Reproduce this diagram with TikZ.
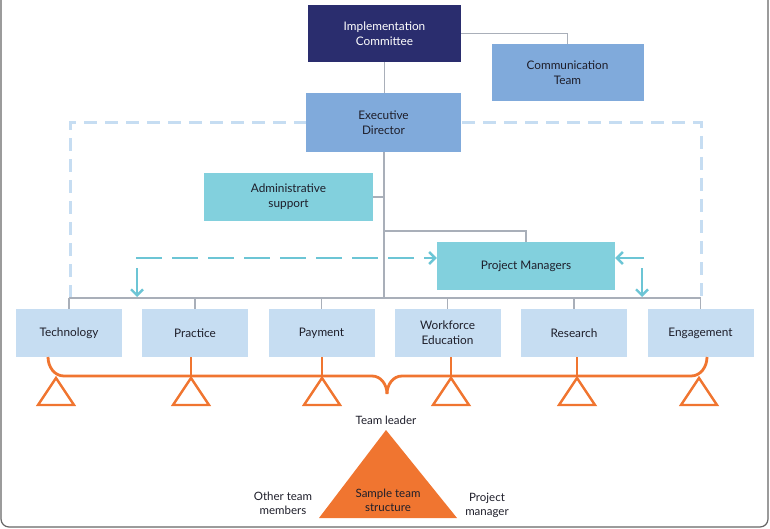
\documentclass[tikz,border=0pt]{standalone}
\usepackage{fontspec}
\setmainfont{Lato}
\usetikzlibrary{arrows.meta}
\definecolor{navy}{HTML}{2A2D6E}
\definecolor{midblue}{HTML}{80AADB}
\definecolor{teal}{HTML}{82D0DD}
\definecolor{paleblue}{HTML}{C6DDF2}
\definecolor{arrteal}{HTML}{6CC5D5}
\definecolor{conn}{HTML}{A9AFB9}
\definecolor{orng}{HTML}{F07530}
\definecolor{txt}{HTML}{1E1E2A}
\begin{document}
\begin{tikzpicture}[x=1pt,y=-1pt,
  box/.style={rectangle,inner sep=0pt,align=center,font=\fontsize{11.8}{15}\selectfont,text=txt},
  teambox/.style={box,fill=paleblue,minimum width=106pt,minimum height=48pt},
  conline/.style={draw=conn,line width=1.6pt},
  dashrect/.style={draw=paleblue,line width=3pt,dash pattern=on 13pt off 8pt},
  tarrow/.style={draw=arrteal,line width=2.7pt,-{Straight Barb[length=6pt,width=12pt,line width=2.4pt]}},
  orline/.style={draw=orng,line width=2.8pt},
  lbl/.style={align=center,font=\fontsize{11.5}{14}\selectfont,text=txt,inner sep=0pt}]
\useasboundingbox (0,0) rectangle (770,529);
% outer frame (open at top)
\draw[draw=black!60,line width=1.2pt] (1,-10) -- (1,519) arc[start angle=180,end angle=90,radius=8] -- (760,527) arc[start angle=90,end angle=0,radius=8] -- (768,-10);
% dashed rectangle (behind nodes)
\coordinate (L) at (69,298);
\coordinate (R) at (701,298);
\draw[dashrect] (70,298) -- (70,123) -- (701,123) -- (701,298);
% nodes
\node[box,fill=navy,text=white,minimum width=153pt,minimum height=57pt] (ic) at (384.5,33.5) {Implementation\\Committee};
\node[box,fill=midblue,minimum width=152pt,minimum height=57pt] (ct) at (567.5,72.5) {Communication\\Team};
\node[box,fill=midblue,minimum width=155pt,minimum height=59pt] (ed) at (383.5,122.5) {Executive\\Director};
\node[box,fill=teal,minimum width=169pt,minimum height=48pt] (as) at (288.5,197) {Administrative\\support};
\node[box,fill=teal,minimum width=178pt,minimum height=48pt] (pm) at (526,266) {Project Managers};
\node[teambox] (t1) at (69,333) {Technology};
\node[teambox] (t2) at (195,333) {Practice};
\node[teambox] (t3) at (321.5,333) {Payment};
\node[teambox] (t4) at (447.5,333) {Workforce\\Education};
\node[teambox] (t5) at (574,333) {Research};
\node[teambox] (t6) at (700.5,333) {Engagement};
% gray connectors
\coordinate (hub) at (384,298);
\coordinate (br) at (384,231);
\draw[conline] (ic.south) -- (ic.south |- ed.north);
\draw[conline] (ic.east) -| (ct.north);
\draw[conline] (ed.south -| hub) -- (hub);
\draw[conline] (as.east) -- (as.east -| hub);
\draw[conline] (br) -| (pm.north);
\draw[conline] (L) -- (R);
\foreach \t in {t1,t2,t3,t4,t5,t6} {\draw[conline] (\t.north) -- (\t.north |- L);}
% teal arrows
\coordinate (la) at (136,258);
\coordinate (ld1) at (137,268);
\coordinate (ld2) at (137,297);
\coordinate (ra) at (644,258);
\coordinate (rd1) at (642,268);
\coordinate (rd2) at (642,297);
\draw[tarrow,dash pattern=on 26pt off 10pt] (la) -- (la -| pm.west);
\draw[tarrow] (ld1) -- (ld2);
\draw[tarrow] (ra) -- (ra -| pm.east);
\draw[tarrow] (rd1) -- (rd2);
% orange brace
\draw[orline] (48,357) to[out=-90,in=180] (64,376) -- (372,376) to[out=0,in=90] (387,394);
\draw[orline] (387,394) to[out=90,in=180] (402,376) -- (691,376) to[out=0,in=-90] (707,357);
\foreach \x in {191,322,451,577} {\draw[orline] (\x,357) -- (\x,376);}
% outline triangles
\foreach \x in {56,191,322,451,577,699} {\draw[orline,line width=2.4pt,fill=white,line join=miter] (\x,378) -- (\x+18,405) -- (\x-18,405) -- cycle;}
% sample team structure
\node[lbl] (tl) at (386,420) {Team leader};
\fill[orng] (386,430) -- (457,518) -- (319,518) -- cycle;
\node[lbl] (st) at (388,500) {Sample team\\structure};
\node[lbl] (ot) at (283,503) {Other team\\members};
\node[lbl] (pj) at (487,505) {Project\\manager};
\end{tikzpicture}
\end{document}
